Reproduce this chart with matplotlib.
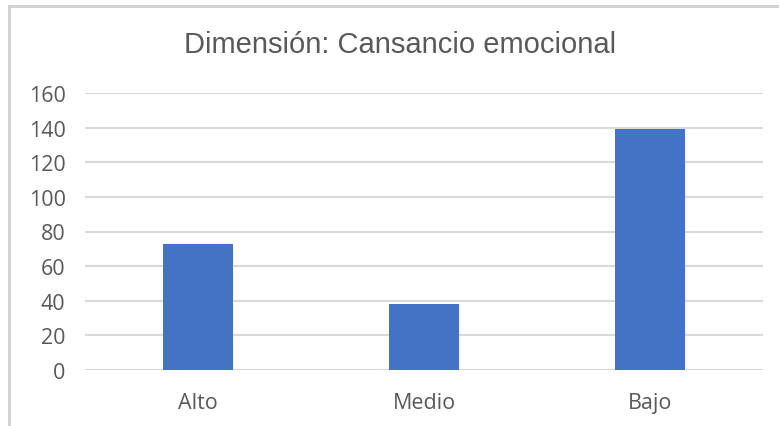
import matplotlib.pyplot as plt
from matplotlib.lines import Line2D

categories = ["Alto", "Medio", "Bajo"]
values = [73, 38, 139]
y_ticks = [0, 20, 40, 60, 80, 100, 120, 140, 160]
title = "Dimensión: Cansancio emocional"

BAR_COLOR = "#4472C4"
GRID_COLOR = "#D9D9D9"
FRAME_COLOR = "#D0D0D0"
TEXT_COLOR = "#595959"


def plot_dimension(cats, vals):
    fig = plt.figure(figsize=(7.79, 4.27), dpi=100)
    ax = fig.add_axes([85 / 779, 1 - 371 / 427, 678 / 779, 277 / 427])

    positions = range(len(cats))
    ax.bar(positions, vals, width=0.313, color=BAR_COLOR, zorder=3)

    ax.set_xlim(-0.5, len(cats) - 0.5)
    ax.set_ylim(0, 160)
    ax.set_yticks(y_ticks)
    ax.set_xticks(list(positions))
    ax.set_xticklabels(cats)

    ax.grid(axis="y", color=GRID_COLOR, linewidth=1.5, zorder=0)
    for side in ax.spines.values():
        side.set_visible(False)
    ax.tick_params(axis="both", length=0, labelcolor=TEXT_COLOR,
                   labelsize=15.5)
    ax.tick_params(axis="y", pad=14)
    ax.tick_params(axis="x", pad=16)
    for lbl in ax.get_xticklabels() + ax.get_yticklabels():
        lbl.set_family("Open Sans")

    fig.text(400 / 779, 1 - 45 / 427, title, ha="center", va="center",
             fontsize=21, color=TEXT_COLOR, family="Liberation Sans")

    # chart area frame (left and top edges)
    top = 1 - 7 / 427
    left = 8.5 / 779
    fig.add_artist(Line2D([left, left], [0, top], transform=fig.transFigure,
                          color=FRAME_COLOR, linewidth=2))
    fig.add_artist(Line2D([left, 1], [top, top], transform=fig.transFigure,
                          color=FRAME_COLOR, linewidth=2))

    fig.savefig("out.png", dpi=100)


def main():
    plot_dimension(categories, values)


if __name__ == '__main__':
    main()
